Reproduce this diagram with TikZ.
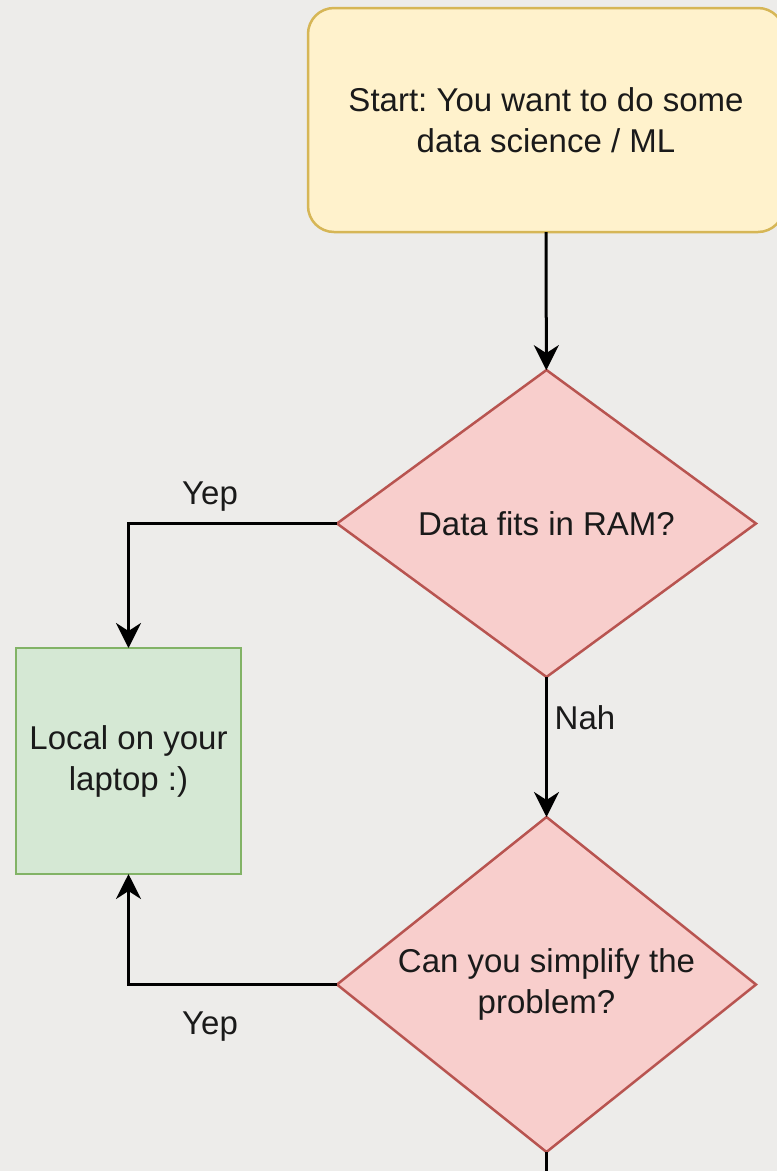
\documentclass[tikz,border=0pt]{standalone}
\usepackage{fontspec}
\setmainfont{Liberation Sans}
\usetikzlibrary{shapes.geometric,arrows.meta}
\definecolor{bg}{HTML}{EDECEA}
\definecolor{yfill}{HTML}{FFF2CC}
\definecolor{ydraw}{HTML}{D6B656}
\definecolor{rfill}{HTML}{F8CECC}
\definecolor{rdraw}{HTML}{B85450}
\definecolor{gfill}{HTML}{D5E8D4}
\definecolor{gdraw}{HTML}{82B366}
\definecolor{ink}{HTML}{1A1A1A}
\frenchspacing
\tikzset{
  every node/.style={font=\fontsize{33}{41}\selectfont, text=ink, align=center, outer sep=0pt, inner sep=0pt},
  startbox/.style={rectangle, rounded corners=26pt, fill=yfill, draw=ydraw, line width=2.5pt, minimum width=476pt, minimum height=224pt},
  decision/.style={diamond, fill=rfill, draw=rdraw, line width=2.5pt},
  endbox/.style={rectangle, fill=gfill, draw=gdraw, line width=2.5pt, minimum width=225pt, minimum height=226pt},
  conn/.style={draw=black, line width=3pt},
  arr/.style={conn, -{Stealth[length=25pt, width=25pt, inset=8pt]}},
  lbl/.style={}
}
\begin{document}
\begin{tikzpicture}[x=1pt, y=-1pt]
\fill[bg] (0,0) rectangle (777,1171);
\useasboundingbox (0,0) rectangle (777,1171);
\node[startbox] (start) at (546,120) {Start: You want to do some\\data science / ML};
\node[decision, aspect=1.365, minimum width=419pt, minimum height=307pt] (d1) at (546.5,523.5) {Data fits in RAM?};
\node[endbox] (local) at (128.5,761) {Local on your\\laptop :)};
\node[decision, aspect=1.25, minimum width=419pt, minimum height=335pt] (d2) at (546.5,984.5) {Can you simplify the\\problem?};
\coordinate (bottomend) at (546.5,1180);
\draw[arr] (start) -- (d1);
\draw[arr] (d1.west) -| (local.north);
\draw[arr] (d1.south) -- (d2.north);
\draw[arr] (d2.west) -| (local.south);
\draw[conn] (d2.south) -- (bottomend);
\node[lbl] (yep1) at (210,497) {Yep};
\node[lbl] (nah) at (585,718) {Nah};
\node[lbl] (yep2) at (210,1027) {Yep};
\end{tikzpicture}
\end{document}
